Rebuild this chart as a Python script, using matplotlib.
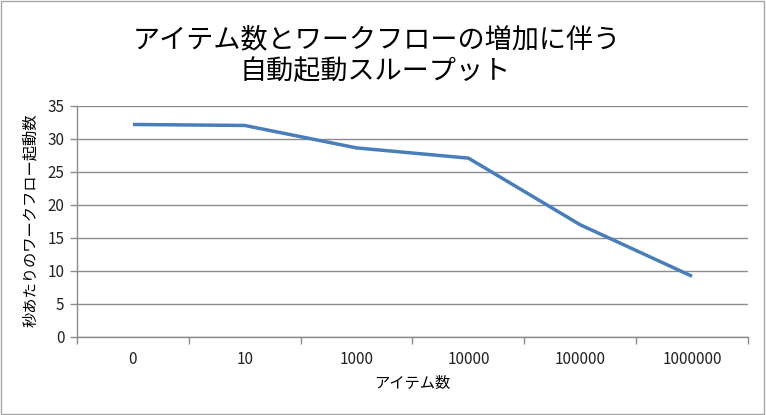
import matplotlib
matplotlib.use("Agg")
import matplotlib.pyplot as plt
from matplotlib.patches import Rectangle

plt.rcParams['font.family'] = ['Noto Sans CJK JP', 'DejaVu Sans']

# chart data
categories = ['0', '10', '1000', '10000', '100000', '1000000']
throughput = [32.2, 32.05, 28.65, 27.1, 17.0, 9.2]
y_ticks = [0, 5, 10, 15, 20, 25, 30, 35]

title_line1 = 'アイテム数とワークフローの増加に伴う'
title_line2 = '自動起動スループット'
x_label = 'アイテム数'
y_label = '秒あたりのワークフロー起動数'

grid_gray = '#8c8c8c'
line_blue = '#4a7ebb'

fig = plt.figure(figsize=(7.66, 4.15), dpi=100)
ax = fig.add_axes([0.1005, 0.188, 0.876, 0.5566])

xs = list(range(len(categories)))
ax.plot(xs, throughput, color=line_blue, linewidth=2.5, solid_capstyle='butt')

ax.set_xlim(-0.5, len(categories) - 0.5)
ax.set_ylim(0, 35)
ax.set_yticks(y_ticks)
ax.yaxis.grid(True, color=grid_gray, linewidth=1.0)
ax.set_axisbelow(True)

# category boundaries as major ticks, labels on minor ticks at centres
ax.set_xticks([i - 0.5 for i in range(len(categories) + 1)])
ax.set_xticklabels([])
ax.set_xticks(xs, minor=True)
ax.set_xticklabels(categories, minor=True)
ax.tick_params(axis='x', which='major', length=5, width=1, color=grid_gray)
ax.tick_params(axis='x', which='minor', length=0, pad=10, labelsize=11, labelcolor='#222222')
ax.tick_params(axis='y', length=5, width=1, color=grid_gray, labelsize=11,
               labelcolor='#222222', pad=4)

for side in ['top', 'right']:
    ax.spines[side].set_visible(False)
for side in ['left', 'bottom']:
    ax.spines[side].set_color(grid_gray)
    ax.spines[side].set_linewidth(1.0)

fig.text(0.492, 0.905, title_line1, ha='center', va='center', fontsize=19.5)
fig.text(0.49, 0.828, title_line2, ha='center', va='center', fontsize=19.5)
fig.text(0.538, 0.077, x_label, ha='center', va='center', fontsize=11)
fig.text(0.04, 0.47, y_label, ha='center', va='center', rotation=90, fontsize=11)

# chart-area border
fig.patches.append(Rectangle((0.001, 0.002), 0.997, 0.995, transform=fig.transFigure,
                             fill=False, edgecolor='#a6a6a6', linewidth=1.0))

fig.savefig('out.png', dpi=100)
